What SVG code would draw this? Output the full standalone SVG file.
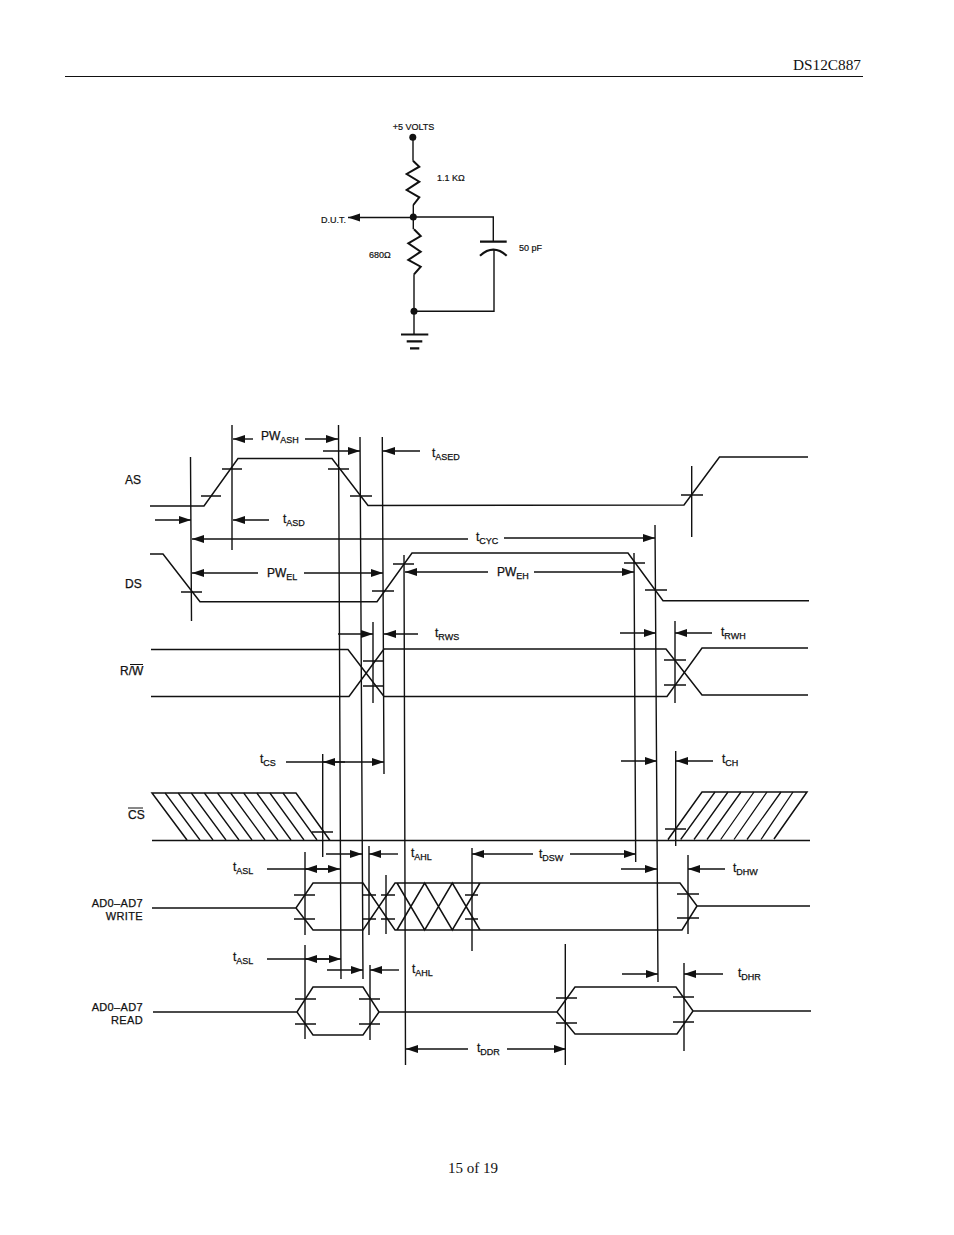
<svg xmlns="http://www.w3.org/2000/svg" width="954" height="1235" viewBox="0 0 954 1235">
<style>
.w{fill:none;stroke:#111;stroke-width:1.5;stroke-linejoin:miter}
.v{fill:none;stroke:#111;stroke-width:1.4}
.k{fill:none;stroke:#111;stroke-width:1.4}
.r{fill:none;stroke:#111;stroke-width:2}
.d{fill:none;stroke:#111;stroke-width:1.4;marker-end:url(#a)}
.l{fill:none;stroke:#111;stroke-width:1.3}
.t{font-family:"Liberation Sans",Arial,sans-serif;font-size:12px;fill:#111;stroke:#111;stroke-width:.25}
.b{font-size:11px;letter-spacing:.35px;text-anchor:end}
.c{font-family:"Liberation Sans",Arial,sans-serif;font-size:9px;fill:#111;stroke:#111;stroke-width:.2}
.s{font-size:9px}
.h{font-family:"Liberation Serif","Times New Roman",serif;fill:#111}
</style>
<defs>
<marker id="a" markerUnits="userSpaceOnUse" markerWidth="13" markerHeight="9" refX="12" refY="4.500" orient="auto"><path d="M0 0.500L12 4.500L0 8.500z" fill="#111"/></marker>
</defs>
<rect width="954" height="1235" fill="#fff"/>
<g id="page">
<text class="h" font-size="15.300" x="793" y="70">DS12C887</text>
<path d="M65 76.500H863" stroke="#111" stroke-width="1"/>
<text class="h" font-size="15" x="448" y="1173">15 of 19</text>
</g>
<g id="circuit">
<path class="k" d="M413 137V160.700M413.300 205V229.300M414 274.300V334"/>
<path class="r" d="M413 160.700L419.300 166.700L406.700 174L419.300 181.700L406.700 190L419.300 197.300L413.300 205M414 229.300L420.700 236L408.300 243.300L420.700 251.700L408.300 260L420.700 266.700L414 274.300"/>
<path class="k" d="M413 217H493.300V241M494 250V311.300H414"/>
<path class="k" d="M413 217.500H348" style="marker-end:url(#a)"/>
<path d="M480 241.700H506.700M401 334.500H428.300M406.700 341.300H422.300M410 348.300H419.300" stroke="#111" stroke-width="2.200" fill="none"/>
<path d="M480 255.700Q493.300 243.500 506.700 255.700" stroke="#111" stroke-width="2.200" fill="none"/>
<circle cx="412.800" cy="137.300" r="3.500" fill="#111"/>
<circle cx="413.300" cy="217" r="3.500" fill="#111"/>
<circle cx="414" cy="311.300" r="3.500" fill="#111"/>
<text class="c" x="392.700" y="130">+5 VOLTS</text>
<text class="c" x="437" y="181">1.1 KΩ</text>
<text class="c" x="321" y="222.500">D.U.T.</text>
<text class="c" x="369" y="257.700">680Ω</text>
<text class="c" x="519" y="250.700">50 pF</text>
</g>
<g id="waveforms">
<path id="as" class="w" d="M150 506H204L238 458.500H332L368 505.500L684 505L719.500 457H808"/>
<path id="ds" class="w" d="M150 554H163L200 601.800H377L412 553H628L663 600.700H809"/>
<path id="rw-a" class="w" d="M151 649.500H348L384 696.500H667L702 648H808"/>
<path id="rw-b" class="w" d="M151 696.500H349L384 649H666L702 695H808"/>
<path id="cs" class="w" d="M330 840.500L296 793H152L187 840M152 840.500H810M668 839.500L702 792H807L774 839"/>
<path id="hatch" class="l" d="M165.100 793L200 840M178.200 793L213 840M191.300 793L226 840M204.400 793L239 840M217.500 793L252 840M230.600 793L265 840M243.700 793L278 840M256.800 793L291 840M269.900 793L304 840M283 793L317 840M680.700 839.500L715 792M694 839.500L728 792M707 839.500L741 792M720.700 839.500L754 792M734 839.500L767 792M747 839.500L781 792M761 839.500L793 792"/>
<path id="wr" class="w" d="M152 908H296L313 883H363L395 930H397M296 908L313 930H363L395 883H397M397 883H680L697 906H810M397 930H682L697 906M397 883L424.700 930L452.300 883L480 930M397 930L424.700 883L452.300 930L480 883"/>
<path id="rd" class="w" d="M153 1012H297L313 987H363L379 1012H557L575 987H676L693 1011H811M297 1012L313 1035H363L379 1012M557 1012L575 1034H677L693 1011"/>
<path id="ticks" class="k" d="M201 496H221M222 469H242M328 469H349M350 496H372M681 495H703M181 592H202M372 591H394M393 564H414M624 563H645M645 590H667M363 661H384M363 686H384M664 660H686M664 685H686M312 832H333M665 829H686M294 895H315M294 919H315M363 895H376M363 919H376M381 895H395M381 919H395M465 895H478M465 919H478M677 894H699M677 918H699M295 999H316M295 1024H316M359 999H380M359 1024H380M556 998H577M556 1023H577M673 997H694M673 1022H694"/>
</g>
<g id="connectors">
<path class="v" d="M190.500 457L191.500 621M232 425V550M338.500 425L341 979M360 437L363 979M382.300 437L384 774M404 555L405.500 1065M373 622V703M634 553L635.700 862M655 525L658 982M675 621V703M691.700 466V537M322.700 754V857M675.700 751V846M688 855V934M684 963V1051M565.300 944V1065M472 848V951M305 852V935M305 945V1039M369 846V935M370 965V1040M386 875V934"/>
<path class="d" d="M253 439H233"/><path class="d" d="M305 439H338"/>
<path class="d" d="M323 451H360"/><path class="d" d="M420 451H383"/>
<path class="d" d="M155 520H191"/><path class="d" d="M269 520H233"/>
<path class="d" d="M468 539H192"/><path class="d" d="M504 538H655"/>
<path class="d" d="M258 573H192"/><path class="d" d="M304 573H383"/>
<path class="d" d="M488 572H405"/><path class="d" d="M534 572H634"/>
<path class="d" d="M338 634H373"/><path class="d" d="M418 634H384"/>
<path class="d" d="M620 633H656"/><path class="d" d="M712 633H675"/>
<path class="d" d="M345 762H323"/><path class="d" d="M286 762H384"/>
<path class="d" d="M621 761H657"/><path class="d" d="M713 761H676"/>
<path class="d" d="M330 869H305"/><path class="d" d="M267 869H340"/>
<path class="d" d="M326 854H362"/><path class="d" d="M398 854H369"/>
<path class="d" d="M533 854H472"/><path class="d" d="M570 854H636"/>
<path class="d" d="M621 869H657"/><path class="d" d="M725 869H688"/>
<path class="d" d="M330 959H305"/><path class="d" d="M267 959H341"/>
<path class="d" d="M327 970H363"/><path class="d" d="M399 970H370"/>
<path class="d" d="M622 974H658"/><path class="d" d="M723 974H684"/>
<path class="d" d="M468 1049H406"/><path class="d" d="M507 1049H566"/>
</g>
<g id="labels">
<text class="t" x="125" y="484">AS</text>
<text class="t" x="125" y="588">DS</text>
<text class="t" x="120" y="675">R/W</text>
<path d="M130 664.500H143M128 808H143" stroke="#111" stroke-width="1"/>
<text class="t" x="128" y="819">CS</text>
<text class="t b" x="143" y="907">AD0–AD7</text>
<text class="t b" x="143" y="920">WRITE</text>
<text class="t b" x="143" y="1011">AD0–AD7</text>
<text class="t b" x="143" y="1024">READ</text>
<text class="t" x="261" y="440">PW<tspan class="s" dy="3">ASH</tspan></text>
<text class="t" x="432" y="457">t<tspan class="s" dy="3">ASED</tspan></text>
<text class="t" x="283" y="523">t<tspan class="s" dy="3">ASD</tspan></text>
<text class="t" x="476" y="541">t<tspan class="s" dy="3">CYC</tspan></text>
<text class="t" x="267" y="577">PW<tspan class="s" dy="3">EL</tspan></text>
<text class="t" x="497" y="576">PW<tspan class="s" dy="3">EH</tspan></text>
<text class="t" x="435" y="637">t<tspan class="s" dy="3">RWS</tspan></text>
<text class="t" x="721" y="636">t<tspan class="s" dy="3">RWH</tspan></text>
<text class="t" x="260" y="763">t<tspan class="s" dy="3">CS</tspan></text>
<text class="t" x="722" y="763">t<tspan class="s" dy="3">CH</tspan></text>
<text class="t" x="411" y="857">t<tspan class="s" dy="3">AHL</tspan></text>
<text class="t" x="539" y="858">t<tspan class="s" dy="3">DSW</tspan></text>
<text class="t" x="233" y="871">t<tspan class="s" dy="3">ASL</tspan></text>
<text class="t" x="733" y="872">t<tspan class="s" dy="3">DHW</tspan></text>
<text class="t" x="233" y="961">t<tspan class="s" dy="3">ASL</tspan></text>
<text class="t" x="412" y="973">t<tspan class="s" dy="3">AHL</tspan></text>
<text class="t" x="738" y="977">t<tspan class="s" dy="3">DHR</tspan></text>
<text class="t" x="477" y="1052">t<tspan class="s" dy="3">DDR</tspan></text>
</g>
</svg>
